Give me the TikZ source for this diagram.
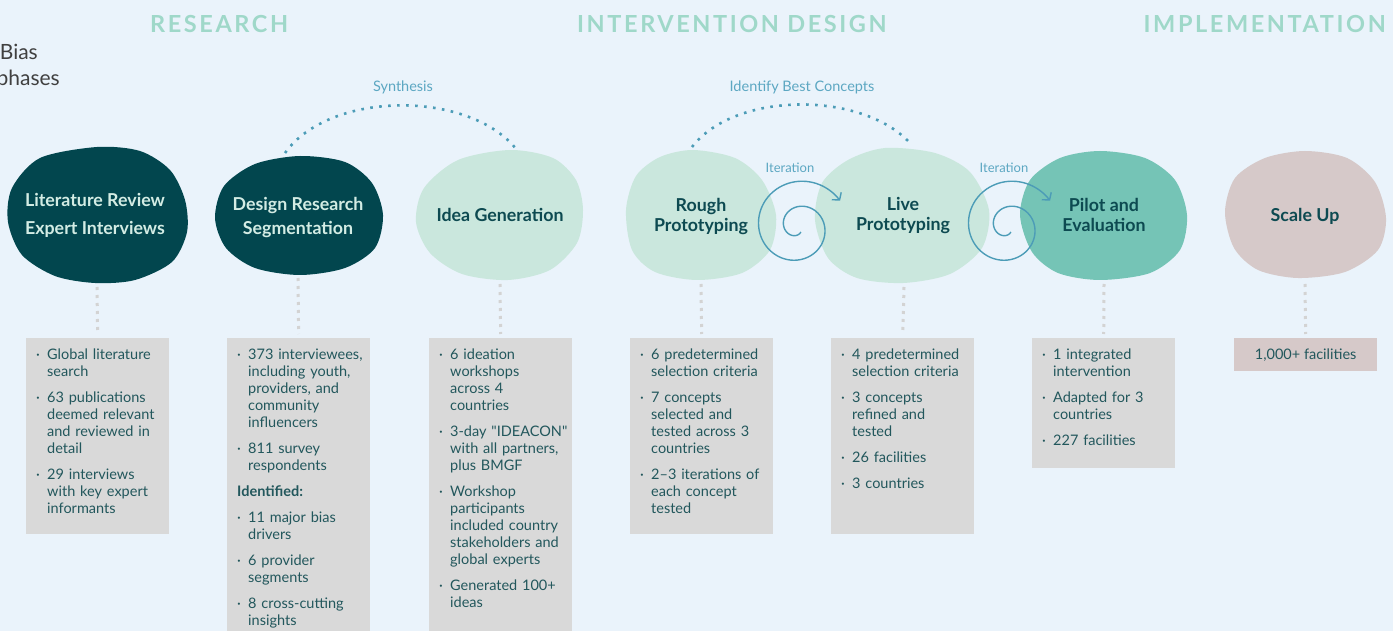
\documentclass[tikz,border=0pt]{standalone}
\usepackage{fontspec}
\setmainfont{Lato}[Ligatures=TeXOff]
\newfontfamily\headfont[LetterSpace=11]{Lato}
\usetikzlibrary{arrows.meta}

\definecolor{bgblue}{HTML}{EAF3FB}
\definecolor{headmint}{HTML}{9FD8C9}
\definecolor{deepteal}{HTML}{02464E}
\definecolor{palemint}{HTML}{CAE7DD}
\definecolor{midmint}{HTML}{75C4B6}
\definecolor{dustrose}{HTML}{D6C9C9}
\definecolor{boxgray}{HTML}{D9D9D9}
\definecolor{inkteal}{HTML}{0D4A51}
\definecolor{boxink}{HTML}{22575C}
\definecolor{lightink}{HTML}{D3ECE4}
\definecolor{arcblue}{HTML}{4C9CB7}
\definecolor{labelblue}{HTML}{5CA7C2}
\definecolor{dotgray}{HTML}{D3D3D3}

\tikzstyle{phasehead} = [font=\headfont\bfseries\fontsize{23.5}{28}\selectfont, text=headmint, anchor=west, inner sep=0pt]
\tikzstyle{titletext} = [font=\fontsize{21}{25}\selectfont, text=black!75, inner sep=0pt]
\tikzstyle{blobtext} = [font=\bfseries\fontsize{17.8}{20}\selectfont, align=center, text=inkteal, inner sep=0pt]
\tikzstyle{arclabel} = [font=\fontsize{14.5}{16}\selectfont, text=labelblue, inner sep=0pt]
\tikzstyle{infobox} = [rectangle, fill=boxgray, anchor=north west, minimum width=143pt, inner sep=0pt]
\tikzstyle{infotext} = [anchor=north west, text width=140pt, inner sep=0pt,
  font=\fontsize{14.5}{17}\selectfont\raggedright\setlength{\parskip}{9pt}, text=boxink]
\tikzstyle{dotlink} = [dotgray, line width=3pt, dash pattern=on 3pt off 5pt, shorten >=4pt]
\tikzstyle{dotarc} = [arcblue, line width=2.6pt, dash pattern=on 2.6pt off 6.4pt]
\tikzstyle{spiral} = [arcblue, line width=1.4pt, -{Straight Barb[length=5pt,width=12pt]}]

\newcommand{\bpoint}[1]{\par\hangindent=11pt\hangafter=1\noindent\makebox[11pt][l]{·}\strut{\def\\{\newline\strut}#1}\par}

\begin{document}
\begin{tikzpicture}[x=1pt, y=-1pt]
    \useasboundingbox (0,0) rectangle (1393,631);
    \clip (0,0) rectangle (1393,631);
    \fill[bgblue] (0,0) rectangle (1393,631);

    % Phase headings
    \node (hres) [phasehead] at (150,24) {RESEARCH};
    \node (hdes) [phasehead] at (577,24) {INTERVENTION DESIGN};
    \node (himp) [phasehead, anchor=east] at (1386,24) {IMPLEMENTATION};

    % Title, cut off at the left edge
    \node (ttl1) [titletext, anchor=east] at (38,52) {Bias};
    \node (ttl2) [titletext, anchor=east] at (60,80) {phases};

    % Blobs
    \fill[deepteal] plot[smooth cycle] coordinates {(97,147) (140,151) (170,170) (185,200) (187,232) (172,262) (135,280) (95,283) (55,276) (22,255) (8,222) (12,188) (40,158)};
    \fill[deepteal] plot[smooth cycle] coordinates {(300,156) (345,162) (372,183) (383,215) (375,248) (345,268) (300,275) (255,268) (226,248) (215,218) (224,186) (255,164)};
    \fill[palemint] plot[smooth cycle] coordinates {(510,150) (553,158) (576,180) (583,210) (577,243) (550,270) (508,280) (462,274) (430,253) (416,222) (424,188) (458,160)};
    \fill[palemint] plot[smooth cycle] coordinates {(693,150) (735,158) (762,180) (776,215) (770,250) (742,273) (697,280) (655,272) (632,250) (626,210) (636,176) (660,157)};
    \fill[palemint] plot[smooth cycle] coordinates {(885,148) (935,153) (970,172) (989,210) (982,248) (950,274) (903,283) (857,278) (828,258) (815,220) (822,183) (848,160)};
    \fill[midmint] plot[smooth cycle] coordinates {(1100,151) (1145,158) (1175,180) (1187,215) (1180,250) (1150,273) (1100,280) (1058,273) (1032,252) (1020,215) (1030,180) (1060,158)};
    \fill[dustrose] plot[smooth cycle] coordinates {(1305,151) (1347,158) (1375,182) (1386,218) (1378,250) (1345,272) (1298,278) (1258,270) (1234,248) (1225,212) (1235,178) (1265,158)};

    % Blob labels
    \node (lit) [blobtext, text=lightink, font=\bfseries\fontsize{17.8}{28}\selectfont] at (95,215) {Literature Review\\Expert Interviews};
    \node (dsg) [blobtext, text=lightink, font=\bfseries\fontsize{17.8}{24}\selectfont] at (298,217) {Design Research\\Segmentation};
    \node (idea) [blobtext] at (500,215) {Idea Generation};
    \node (rough) [blobtext] at (701,216) {Rough\\Prototyping};
    \node (live) [blobtext] at (903,216) {Live\\Prototyping};
    \node (pilot) [blobtext] at (1104,215) {Pilot and\\Evaluation};
    \node (scale) [blobtext] at (1305,216) {Scale Up};

    % Arcs over the blobs
    \coordinate (dsgTop) at (285,153);
    \coordinate (ideaTop) at (517,150);
    \coordinate (roughTop) at (692,147);
    \coordinate (liveTop) at (910,143);
    \draw[dotarc] (dsgTop) .. controls (330,90) and (470,90) .. (ideaTop);
    \draw[dotarc] (roughTop) .. controls (735,91) and (862,91) .. (liveTop);
    \node (synth) [arclabel] at (403,87) {Synthesis};
    \node (ident) [arclabel] at (802,87) {Identify Best Concepts};

    % Iteration spirals
    \coordinate (iterA) at (798,227);
    \coordinate (iterB) at (1008,227);
    \foreach \c in {iterA, iterB} {
        \begin{scope}[shift={(\c)}]
            \draw[spiral] plot[domain=60:688, samples=160, smooth] ({(1.5+0.07*\x)*cos(\x)}, {(1.5+0.07*\x)*sin(\x)});
        \end{scope}
    }
    \node (itA) [arclabel, font=\fontsize{13}{15}\selectfont] at (790,168) {Iteration};
    \node (itB) [arclabel, font=\fontsize{13}{15}\selectfont] at (1004,168) {Iteration};

    % Boxes
    \node (litbox) [infobox, minimum height=196pt] at (26,338) {};
    \node (dsgbox) [infobox, minimum height=300pt] at (227,338) {};
    \node (ideabox) [infobox, minimum height=300pt] at (429,338) {};
    \node (roughbox) [infobox, minimum height=196pt] at (630,338) {};
    \node (livebox) [infobox, minimum height=196pt] at (831,338) {};
    \node (pilotbox) [infobox, minimum height=130pt] at (1032,338) {};
    \node (scalebox) [infobox, minimum height=33pt, fill=dustrose, text=boxink, font=\fontsize{14.5}{17}\selectfont] at (1234,338) {1,000+ facilities};

    \node (littext) [infotext] at ([xshift=10pt, yshift=5pt]litbox.north west) {
        \bpoint{Global literature\\search}
        \bpoint{63 publications\\deemed relevant\\and reviewed in\\detail}
        \bpoint{29 interviews\\with key expert\\informants}};
    \node (dsgtext) [infotext] at ([xshift=10pt, yshift=5pt]dsgbox.north west) {
        \bpoint{373 interviewees,\\including youth,\\providers, and\\community\\influencers}
        \bpoint{811 survey\\respondents}
        \par\noindent\strut\textbf{Identified:}\par
        \bpoint{11 major bias\\drivers}
        \bpoint{6 provider\\segments}
        \bpoint{8 cross-cutting\\insights}};
    \node (ideatext) [infotext] at ([xshift=10pt, yshift=5pt]ideabox.north west) {
        \bpoint{6 ideation\\workshops\\across 4\\countries}
        \bpoint{3-day "IDEACON"\\with all partners,\\plus BMGF}
        \bpoint{Workshop\\participants\\included country\\stakeholders and\\global experts}
        \bpoint{Generated 100+\\ideas}};
    \node (roughtext) [infotext] at ([xshift=10pt, yshift=5pt]roughbox.north west) {
        \bpoint{6 predetermined\\selection criteria}
        \bpoint{7 concepts\\selected and\\tested across 3\\countries}
        \bpoint{2–3 iterations of\\each concept\\tested}};
    \node (livetext) [infotext] at ([xshift=10pt, yshift=5pt]livebox.north west) {
        \bpoint{4 predetermined\\selection criteria}
        \bpoint{3 concepts\\refined and\\tested}
        \bpoint{26 facilities}
        \bpoint{3 countries}};
    \node (pilottext) [infotext] at ([xshift=10pt, yshift=5pt]pilotbox.north west) {
        \bpoint{1 integrated\\intervention}
        \bpoint{Adapted for 3\\countries}
        \bpoint{227 facilities}};

    % Links from blobs down to boxes
    \coordinate (litfoot) at (97,287);
    \coordinate (dsgfoot) at (298,278);
    \coordinate (ideafoot) at (500,284);
    \coordinate (roughfoot) at (701,284);
    \coordinate (livefoot) at (904,287);
    \coordinate (pilotfoot) at (1104,284);
    \coordinate (scalefoot) at (1305,284);
    \draw[dotlink] (litfoot) -- (litbox.north);
    \draw[dotlink] (dsgfoot) -- (dsgbox.north);
    \draw[dotlink] (ideafoot) -- (ideabox.north);
    \draw[dotlink] (roughfoot) -- (roughbox.north);
    \draw[dotlink] (livefoot) -- (livebox.north);
    \draw[dotlink] (pilotfoot) -- (pilotbox.north);
    \draw[dotlink] (scalefoot) -- (scalebox.north);
\end{tikzpicture}
\end{document}
